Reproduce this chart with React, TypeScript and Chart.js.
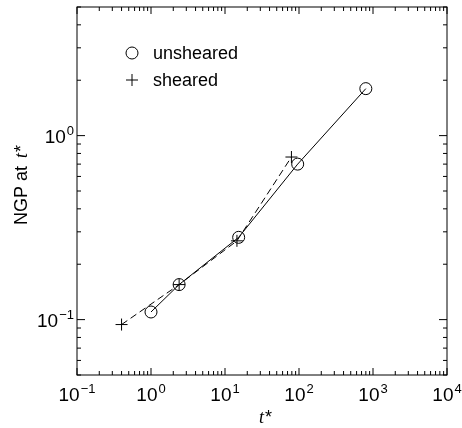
import React, { useEffect, useRef } from "react";
import { Chart, registerables } from "chart.js";

Chart.register(...registerables);

// ---- data ----
const unshearedT = [1.0, 2.4, 15.3, 96, 800];
const unshearedNGP = [0.11, 0.155, 0.28, 0.7, 1.8];
const shearedT = [0.4, 2.4, 14.5, 79];
const shearedNGP = [0.094, 0.155, 0.268, 0.765];

const xTickExps = [-1, 0, 1, 2, 3, 4];
const yTickExps = [-1, 0];
const X_MIN = 0.1;
const X_MAX = 1e4;
const Y_MIN = 0.05;
const Y_MAX = 5;

const legendLabels = ["unsheared", "sheared"];
const xTitle = "t*";
const yTitlePrefix = "NGP at ";

const SANS = '"Liberation Sans", Arial, Helvetica, sans-serif';
const SERIF = '"Liberation Serif", "Times New Roman", serif';

function drawPow(
  ctx: CanvasRenderingContext2D,
  x: number,
  baseline: number,
  exp: number,
  align: "center" | "right"
) {
  const base = "10";
  const ex = exp < 0 ? "\u2212" + Math.abs(exp) : String(exp);
  ctx.font = `19px ${SANS}`;
  const wb = ctx.measureText(base).width;
  ctx.font = `13px ${SANS}`;
  const we = ctx.measureText(ex).width;
  const total = wb + we + 1;
  const x0 = align === "center" ? x - total / 2 : x - total;
  ctx.textAlign = "left";
  ctx.textBaseline = "alphabetic";
  ctx.font = `19px ${SANS}`;
  ctx.fillText(base, x0, baseline);
  ctx.font = `13px ${SANS}`;
  ctx.fillText(ex, x0 + wb + 1, baseline - 8);
}

const framePlugin = {
  id: "framePlugin",
  afterDraw(chart: any) {
    const ctx: CanvasRenderingContext2D = chart.ctx;
    const { left, right, top, bottom } = chart.chartArea;
    const xs = chart.scales.x;
    const ys = chart.scales.y;
    ctx.save();
    ctx.strokeStyle = "#000";
    ctx.fillStyle = "#000";
    ctx.lineWidth = 1;
    ctx.setLineDash([]);
    // frame
    ctx.strokeRect(left, top, right - left, bottom - top);

    // x ticks (inward, bottom and top)
    for (let e = -1; e <= 4; e++) {
      for (let k = 1; k <= 9; k++) {
        const v = k * Math.pow(10, e);
        if (v < X_MIN - 1e-9 || v > X_MAX + 1e-9) continue;
        const px = xs.getPixelForValue(v);
        const len = k === 1 ? 7 : 4;
        ctx.beginPath();
        ctx.moveTo(px, bottom);
        ctx.lineTo(px, bottom - len);
        ctx.moveTo(px, top);
        ctx.lineTo(px, top + len);
        ctx.stroke();
      }
    }
    // y ticks (inward, left and right)
    for (let e = -2; e <= 0; e++) {
      for (let k = 1; k <= 9; k++) {
        const v = k * Math.pow(10, e);
        if (v < Y_MIN - 1e-9 || v > Y_MAX + 1e-9) continue;
        const py = ys.getPixelForValue(v);
        const len = k === 1 ? 8 : 4;
        ctx.beginPath();
        ctx.moveTo(left, py);
        ctx.lineTo(left + len, py);
        ctx.moveTo(right, py);
        ctx.lineTo(right - len, py);
        ctx.stroke();
      }
    }

    // tick labels
    for (const e of xTickExps) {
      const px = xs.getPixelForValue(Math.pow(10, e));
      drawPow(ctx, px, bottom + 26, e, "center");
    }
    for (const e of yTickExps) {
      const py = ys.getPixelForValue(Math.pow(10, e));
      drawPow(ctx, left - 3, py + 7, e, "right");
    }

    // x title
    ctx.textBaseline = "alphabetic";
    ctx.textAlign = "left";
    ctx.font = `italic 18px ${SERIF}`;
    const wt = ctx.measureText(xTitle[0]).width;
    ctx.font = `18px ${SANS}`;
    const ws = ctx.measureText(xTitle.slice(1)).width;
    const cx = (left + right) / 2 + 3;
    const x0 = cx - (wt + ws) / 2;
    ctx.font = `italic 18px ${SERIF}`;
    ctx.fillText(xTitle[0], x0, bottom + 48);
    ctx.font = `18px ${SANS}`;
    ctx.fillText(xTitle.slice(1), x0 + wt + 1, bottom + 48);

    // y title (rotated)
    ctx.save();
    ctx.translate(27, 225);
    ctx.rotate(-Math.PI / 2);
    ctx.font = `18px ${SANS}`;
    ctx.fillText(yTitlePrefix, 0, 0);
    let off = ctx.measureText(yTitlePrefix).width + 3;
    ctx.font = `italic 18px ${SERIF}`;
    ctx.fillText("t", off, 0);
    off += ctx.measureText("t").width + 1;
    ctx.font = `18px ${SANS}`;
    ctx.fillText("*", off, 0);
    ctx.restore();

    // legend
    const lx = 132;
    const ly = [53, 80];
    ctx.lineWidth = 1;
    ctx.beginPath();
    ctx.arc(lx, ly[0], 6, 0, Math.PI * 2);
    ctx.stroke();
    ctx.beginPath();
    ctx.moveTo(lx - 6, ly[1]);
    ctx.lineTo(lx + 6, ly[1]);
    ctx.moveTo(lx, ly[1] - 6);
    ctx.lineTo(lx, ly[1] + 6);
    ctx.stroke();
    ctx.font = `18px ${SANS}`;
    ctx.textBaseline = "middle";
    ctx.fillText(legendLabels[0], 153, ly[0] + 1);
    ctx.fillText(legendLabels[1], 153, ly[1] + 1);

    ctx.restore();
  },
};

export default function App() {
  const ref = useRef<HTMLCanvasElement | null>(null);
  useEffect(() => {
    if (!ref.current) return;
    const chart = new Chart(ref.current, {
      type: "scatter",
      data: {
        datasets: [
          {
            label: legendLabels[0],
            data: unshearedT.map((t, i) => ({ x: t, y: unshearedNGP[i] })),
            showLine: true,
            borderColor: "#000",
            borderWidth: 1,
            pointStyle: "circle",
            pointRadius: 6,
            pointBorderWidth: 1,
            pointBorderColor: "#000",
            pointBackgroundColor: "rgba(0,0,0,0)",
          },
          {
            label: legendLabels[1],
            data: shearedT.map((t, i) => ({ x: t, y: shearedNGP[i] })),
            showLine: true,
            borderColor: "#000",
            borderWidth: 1,
            borderDash: [7, 4],
            pointStyle: "cross",
            pointRadius: 6,
            pointBorderWidth: 1,
            pointBorderColor: "#000",
            pointBackgroundColor: "rgba(0,0,0,0)",
          },
        ],
      },
      options: {
        responsive: false,
        animation: false,
        events: [],
        layout: { padding: { left: 77, top: 5, right: 15, bottom: 53 } },
        scales: {
          x: { type: "logarithmic", min: X_MIN, max: X_MAX, display: false },
          y: { type: "logarithmic", min: Y_MIN, max: Y_MAX, display: false },
        },
        plugins: {
          legend: { display: false },
          tooltip: { enabled: false },
        },
      },
      plugins: [framePlugin],
    });
    return () => chart.destroy();
  }, []);
  return (
    <div style={{ position: "fixed", left: 0, top: 0, width: 462, height: 428, background: "#fff" }}>
      <canvas ref={ref} width={462} height={428} style={{ display: "block" }} />
    </div>
  );
}
